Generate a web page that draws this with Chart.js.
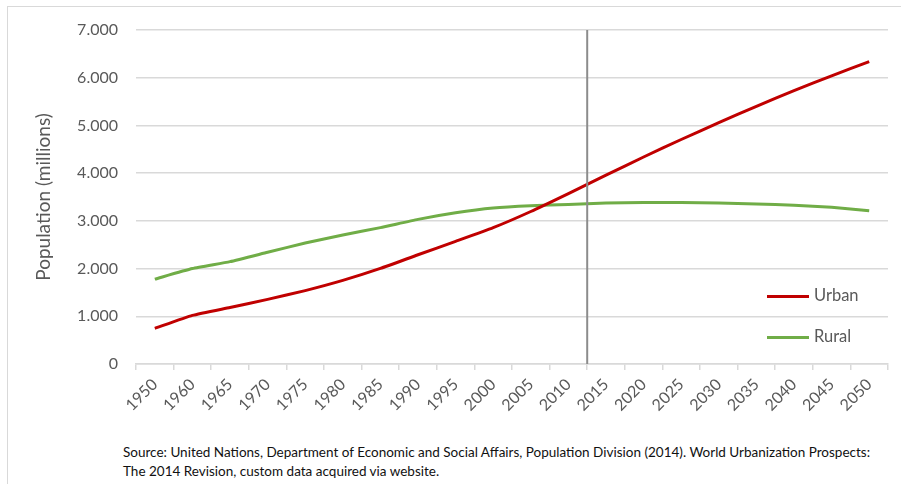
<!DOCTYPE html>
<html>
<head>
<meta charset="utf-8">
<script src="https://cdn.jsdelivr.net/npm/chart.js@4"></script>
<style>
  body { margin: 0; background: #fff; font-family: Lato, "Open Sans", sans-serif; }
  #frame {
    position: absolute; left: 7px; top: 6px; width: 894px; height: 478px;
    border-top: 1px solid #d9d9d9; border-left: 1px solid #d9d9d9;
  }
  #wrap { position: absolute; left: 0; top: 0; width: 901px; height: 420px; }
  .legend { position: absolute; left: 767px; font-size: 16.5px; color: #595959; }
  .legend span.line { display: inline-block; width: 42px; height: 3px; vertical-align: middle; margin-right: 5px; }
  #source {
    position: absolute; left: 123px; top: 443px; font-size: 13.5px; line-height: 19px; color: #111;
  }
</style>
</head>
<body>
<div id="frame"></div>
<div id="wrap"><canvas id="popChart" width="901" height="420"></canvas></div>
<div class="legend" id="legUrban" style="top:285px"></div>
<div class="legend" id="legRural" style="top:326px"></div>
<div id="source">Source: United Nations, Department of Economic and Social Affairs, Population Division (2014). World Urbanization Prospects:<br>The 2014 Revision, custom data acquired via website.</div>
<script>
// world population in millions
var years = ['1950', '1960', '1965', '1970', '1975', '1980', '1985', '1990', '1995', '2000',
             '2005', '2010', '2015', '2020', '2025', '2030', '2035', '2040', '2045', '2050'];
var urban = [746, 1019, 1185, 1354, 1538, 1752, 2003, 2290, 2570, 2857,
             3196, 3572, 3957, 4338, 4705, 5058, 5400, 5729, 6040, 6339];
var rural = [1779, 2000, 2145, 2341, 2535, 2703, 2858, 3031, 3170, 3270,
             3317, 3342, 3372, 3385, 3386, 3375, 3355, 3327, 3284, 3212];
var seriesNames = ['Urban', 'Rural'];
var seriesColors = ['#c00000', '#70ad47'];

// separator between estimates and projections
var dividerAt = 11.5;

function fmt(v) {
    return String(v).replace(/\B(?=(\d{3})+(?!\d))/g, '.');
}

const dividerLine = {
    id: 'dividerLine',
    afterDatasetsDraw(chart) {
        const ctx = chart.ctx;
        const x = chart.scales.x.getPixelForValue(dividerAt);
        ctx.save();
        ctx.strokeStyle = '#8c8c8c';
        ctx.lineWidth = 2;
        ctx.beginPath();
        ctx.moveTo(x, chart.chartArea.top);
        ctx.lineTo(x, chart.chartArea.bottom);
        ctx.stroke();
        ctx.restore();
    }
};

const ctxPop = document.getElementById('popChart');

new Chart(ctxPop, {
    type: 'line',
    data: {
        labels: years,
        datasets: [{
            label: seriesNames[0],
            data: urban,
            borderColor: seriesColors[0],
            borderWidth: 3,
            pointRadius: 0,
            tension: 0.15
        }, {
            label: seriesNames[1],
            data: rural,
            borderColor: seriesColors[1],
            borderWidth: 3,
            pointRadius: 0,
            tension: 0.15
        }]
    },
    options: {
        responsive: false,
        animation: false,
        layout: { padding: { left: 8, top: 30, right: 13, bottom: 0 } },
        plugins: {
            legend: { display: false },
            tooltip: { enabled: false }
        },
        scales: {
            x: {
                offset: true,
                grid: {
                    offset: true,
                    drawOnChartArea: false,
                    drawTicks: true,
                    tickLength: 6,
                    color: '#d9d9d9',
                    lineWidth: 1.5
                },
                border: { color: '#d9d9d9', width: 1.5 },
                ticks: {
                    minRotation: 45,
                    maxRotation: 45,
                    autoSkip: false,
                    padding: 5,
                    color: '#595959',
                    font: { family: 'Lato', size: 16 }
                },
                afterFit(scale) { scale.height = 56; }
            },
            y: {
                min: 0,
                max: 7000,
                grid: { color: '#d9d9d9', lineWidth: 1.5, drawTicks: false },
                border: { display: false },
                ticks: {
                    stepSize: 1000,
                    padding: 18,
                    color: '#595959',
                    font: { family: 'Lato', size: 16 },
                    callback: function(v) { return fmt(v); }
                },
                title: {
                    display: true,
                    text: 'Population (millions)',
                    color: '#595959',
                    font: { family: 'Lato', size: 19 },
                    padding: { top: 24, bottom: 0 }
                },
                afterFit(scale) { scale.width = 128; }
            }
        }
    },
    plugins: [dividerLine]
});

// legend entries
function legendItem(id, i) {
    document.getElementById(id).innerHTML =
        '<span class="line" style="background:' + seriesColors[i] + '"></span>' + seriesNames[i];
}
legendItem('legUrban', 0);
legendItem('legRural', 1);
</script>
</body>
</html>
